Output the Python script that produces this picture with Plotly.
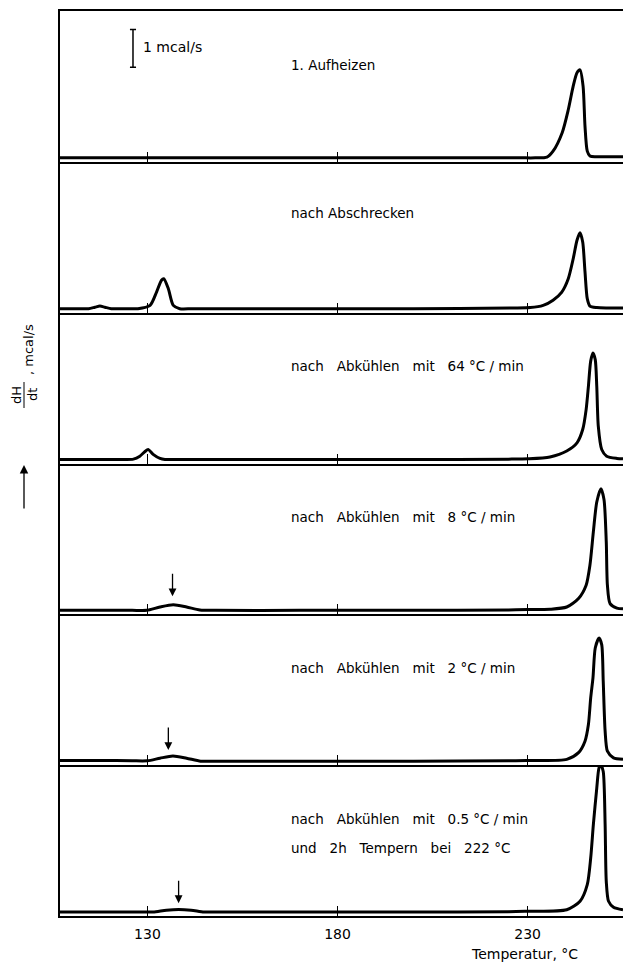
import plotly.graph_objects as go
from plotly.subplots import make_subplots

# ---------------- data ----------------
G = "\u00a0\u00a0\u00a0"  # wide word gap as in the original lettering
panel_labels = [
    ["1. Aufheizen"],
    ["nach Abschrecken"],
    ["nach" + G + "Abkühlen" + G + "mit" + G + "64 °C / min"],
    ["nach" + G + "Abkühlen" + G + "mit" + G + "8 °C / min"],
    ["nach" + G + "Abkühlen" + G + "mit" + G + "2 °C / min"],
    ["nach" + G + "Abkühlen" + G + "mit" + G + "0.5 °C / min",
     "und" + G + "2h" + G + "Tempern" + G + "bei" + G + "222 °C"],
]
x_tick_vals = [130, 180, 230]
x_tick_text = ["130", "180", "230"]
x_title = "Temperatur, °C"
y_title_frac_top = "dH"
y_title_frac_bot = "dt"
y_title_unit = ", mcal/s"
scale_label = "1 mcal/s"

T1 = [107, 150, 200, 228, 232, 235.1, 236.7, 239.1, 240.7, 242.0, 243.0, 243.8, 244.6, 245.1, 245.7, 246.4,
      248, 251, 255.1]
Y1 = [0, 0, 0, 0, 0, 0.02, 0.18, 0.68, 1.3, 1.94, 2.3, 2.38, 1.94, 0.86, 0.18, 0.05,
      0.03, 0.03, 0.03]

T2 = [107, 111, 114.5, 116.2, 117.5, 118.8, 120.5, 124, 127.5, 130.7, 132.4, 133.7, 134.3, 135.5, 136.8,
      138.5, 142, 170, 200, 226, 230.7, 234.1, 236.7, 239.0, 240.7, 242.0, 243.0, 243.8, 244.5, 245.1,
      245.7, 246.4, 248.2, 251, 255.1]
Y2 = [0, 0, 0, 0.04, 0.07, 0.04, 0, 0, 0, 0.09, 0.45, 0.77, 0.81, 0.54, 0.09,
      0, 0, 0, 0, 0.02, 0.03, 0.09, 0.23, 0.45, 0.81, 1.35, 1.85, 2.05, 1.8, 1.0,
      0.27, 0.07, 0.03, 0.02, 0.02]

T3 = [107, 115, 124, 126.3, 128.0, 129.3, 130.2, 131.5, 133.3, 134.6, 138, 170, 200, 225, 230.2, 235.9,
      240.3, 243.0, 244.5, 245.4, 246.0, 246.6, 247.2, 247.8, 248.2, 248.6, 249.5, 250.8, 253.5, 255.1]
Y3 = [0, 0, 0, 0.01, 0.09, 0.21, 0.27, 0.14, 0.03, 0, 0, 0, 0, 0.01, 0.02, 0.07,
      0.23, 0.45, 0.81, 1.35, 1.98, 2.66, 2.88, 2.7, 1.98, 0.9, 0.27, 0.09, 0.03, 0.02]

T4 = [107, 118, 126, 129.8, 133.3, 136.8, 140.3, 143.8, 148, 170, 200, 225, 230, 235.9, 240.3, 243.4,
      245.4, 246.4, 247.3, 248.2, 249.3, 250.1, 250.7, 251.0, 251.7, 253.5, 255.1]
Y4 = [0, 0, 0, 0, 0.09, 0.15, 0.09, 0.01, 0, 0, 0, 0.01, 0.02, 0.03, 0.09, 0.32,
      0.68, 1.22, 2.12, 2.93, 3.29, 3.0, 1.85, 0.68, 0.18, 0.06, 0.04]

T5 = [107, 118, 126, 130, 133.3, 136.7, 140.3, 144, 148, 170, 200, 225, 229.8, 240.3, 243.4, 245.1,
      246.0, 246.6, 247.2, 247.8, 248.8, 249.5, 249.9, 250.4, 251.0, 252.6, 255.1]
Y5 = [0.02, 0.02, 0.01, 0.01, 0.08, 0.14, 0.08, 0, 0, 0, 0, 0.01, 0.02, 0.05, 0.23, 0.54,
      0.99, 1.71, 2.25, 3.06, 3.33, 3.15, 2.16, 0.81, 0.27, 0.09, 0.05]

T6 = [107, 118, 128, 131.5, 135, 138.2, 141.5, 144.9, 149, 170, 200, 225, 229.3, 240.3, 243.8, 245.7,
      246.6, 247.3, 248.2, 248.8, 249.3, 249.9, 250.4, 250.7, 251.3, 252.6, 255.1]
Y6 = [0, 0, 0, 0, 0.05, 0.07, 0.05, 0, 0, 0, 0, 0.01, 0.02, 0.06, 0.29, 0.74,
      1.46, 2.36, 3.35, 3.9, 3.97, 3.8, 2.36, 0.83, 0.29, 0.13, 0.06]

curves = [(T1, Y1), (T2, Y2), (T3, Y3), (T4, Y4), (T5, Y5), (T6, Y6)]

# marked small peaks (arrows): panel index, temperature, tip height
arrow_panels = [4, 5, 6]
arrow_T = [136.6, 135.5, 138.2]
arrow_tip = [0.38, 0.30, 0.24]

# ---------------- figure ----------------
W, H = 623, 966
ML, MR, MT, MB = 60, 0, 11, 50
PH = H - MT - MB
XR = [107, 255.1]
YR = [-0.108, 3.97]
FONT = "DejaVu Sans"


def py(ypix):
    return (H - MB - ypix) / PH


def px(xpix):
    return (xpix - ML) / (W - ML - MR)


fig = make_subplots(rows=6, cols=1, shared_xaxes=True, vertical_spacing=0)

for i, (tx, ty) in enumerate(curves, start=1):
    fig.add_trace(go.Scatter(x=tx, y=ty, mode="lines",
                             line=dict(color="black", width=3, shape="spline", smoothing=0.7),
                             showlegend=False, hoverinfo="skip"), row=i, col=1)
    fig.update_xaxes(range=XR, showgrid=False, zeroline=False, showline=True, linewidth=2,
                     linecolor="black", ticks="inside", tickvals=x_tick_vals, ticktext=x_tick_text,
                     ticklen=10, tickwidth=1.3, tickcolor="black",
                     showticklabels=(i == 6), mirror=(i == 1), row=i, col=1)
    fig.update_yaxes(range=YR, showgrid=False, zeroline=False, showline=True, linewidth=2,
                     linecolor="black", showticklabels=False, ticks="", row=i, col=1)

fig.update_xaxes(tickfont=dict(family=FONT, size=14, color="black"), ticklabelstandoff=4, row=6, col=1)

# panel labels
label_y = [[65], [213], [366], [517], [668], [819, 848]]
for lines, ys in zip(panel_labels, label_y):
    for lab, yp in zip(lines, ys):
        fig.add_annotation(text=lab, xref="paper", yref="paper", x=px(289), y=py(yp),
                           xanchor="left", yanchor="middle", align="left", showarrow=False,
                           font=dict(family=FONT, size=13.5, color="black"))

# arrows on small peaks
for p, t, tip in zip(arrow_panels, arrow_T, arrow_tip):
    fig.add_annotation(x=t, y=tip, xref=f"x{p}", yref=f"y{p}", text="", showarrow=True,
                       ax=0, ay=-24, arrowhead=2, arrowsize=1.2, arrowwidth=1.3, arrowcolor="black")

# scale bar (1 mcal/s) in panel 1
bar_x = 126.2
fig.add_shape(type="line", xref="x", yref="y", x0=bar_x, x1=bar_x, y0=2.45, y1=3.47,
              line=dict(color="black", width=1.5))
for yy in (2.45, 3.47):
    fig.add_shape(type="line", xref="x", yref="y", x0=bar_x - 0.8, x1=bar_x + 0.8, y0=yy, y1=yy,
                  line=dict(color="black", width=1.5))
fig.add_annotation(text=scale_label, xref="x", yref="paper", x=128.4, y=py(47), xanchor="left",
                   yanchor="middle", showarrow=False, font=dict(family=FONT, size=14, color="black"))

# x title
fig.add_annotation(text=x_title, xref="x6", yref="paper", x=229.3, y=py(954), xanchor="center",
                   yanchor="middle", showarrow=False, font=dict(family=FONT, size=14, color="black"))

# y title: fraction dH/dt, unit, and upward arrow
fig.add_annotation(text=y_title_frac_top, xref="paper", yref="paper", x=px(16), y=py(395),
                   xanchor="center", yanchor="middle",
                   textangle=-90, showarrow=False, font=dict(family=FONT, size=13, color="black"))
fig.add_annotation(text=y_title_frac_bot, xref="paper", yref="paper", x=px(32), y=py(395),
                   xanchor="center", yanchor="middle",
                   textangle=-90, showarrow=False, font=dict(family=FONT, size=13, color="black"))
fig.add_shape(type="line", xref="paper", yref="paper", x0=px(24), x1=px(24), y0=py(382), y1=py(408),
              line=dict(color="black", width=1))
fig.add_annotation(text=y_title_unit, xref="paper", yref="paper", x=px(28), y=py(350),
                   xanchor="center", yanchor="middle",
                   textangle=-90, showarrow=False, font=dict(family=FONT, size=13, color="black"))
fig.add_annotation(text="", xref="paper", yref="paper", x=px(24), y=py(465), showarrow=True,
                   ax=0, ay=45, arrowhead=2, arrowsize=1.3, arrowwidth=1.3, arrowcolor="black")

fig.update_layout(width=W, height=H, margin=dict(l=ML, r=MR, t=MT, b=MB),
                  plot_bgcolor="white", paper_bgcolor="white", showlegend=False)

fig.write_html("out.html")
